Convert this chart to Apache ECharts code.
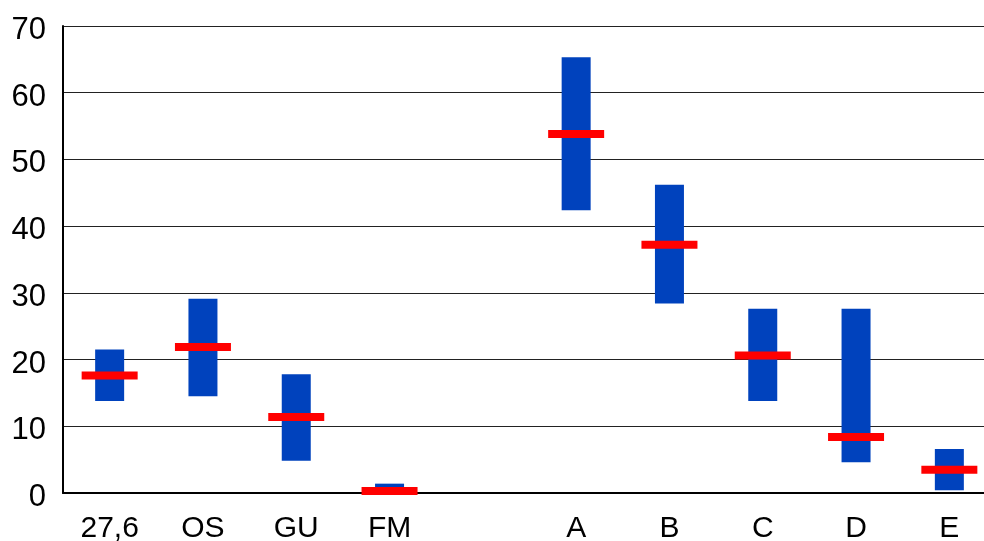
<!DOCTYPE html>
<html>
<head>
<meta charset="utf-8">
<script src="https://cdn.jsdelivr.net/npm/echarts@6/dist/echarts.min.js"></script>
<style>
html,body{margin:0;padding:0;background:#fff;}
#chart{width:984px;height:541px;}
</style>
</head>
<body>
<div id="chart"></div>
<script>
var categories = ['27,6', 'OS', 'GU', 'FM', '', 'A', 'B', 'C', 'D', 'E'];
var lowValues  = [13.8, 14.5, 4.85, 0, null, 42.4, 28.4, 13.8, 4.6, 0.4];
var highValues = [21.5, 29.1, 17.8, 1.4, null, 65.3, 46.2, 27.6, 27.6, 6.6];
var midValues  = [17.6, 21.9, 11.4, 0.3, null, 53.8, 37.2, 20.6, 8.4, 3.5];
var yTicks = [0, 10, 20, 30, 40, 50, 60, 70];

var rangeValues = highValues.map(function (h, i) {
  return (h == null || lowValues[i] == null) ? null : +(h - lowValues[i]).toFixed(3);
});

var chart = echarts.init(document.getElementById('chart'), null, {renderer: 'canvas'});
chart.setOption({
  animation: false,
  backgroundColor: '#ffffff',
  grid: {left: 63, width: 933, top: 26, bottom: 48, containLabel: false, outerBoundsMode: 'none'},
  xAxis: {
    type: 'category',
    data: categories,
    boundaryGap: true,
    axisLine: {show: true, lineStyle: {color: '#000', width: 2}},
    axisTick: {show: false},
    axisLabel: {color: '#000', fontFamily: 'Liberation Sans, Arial, sans-serif', fontSize: 30, margin: 21, interval: 0}
  },
  yAxis: {
    type: 'value',
    min: yTicks[0],
    max: yTicks[yTicks.length - 1],
    interval: 10,
    axisLine: {show: true, lineStyle: {color: '#000', width: 2}},
    axisTick: {show: false},
    splitLine: {show: true, lineStyle: {color: '#222', width: 1}},
    axisLabel: {
      margin: 17,
      formatter: '{v|{value}}',
      rich: {
        v: {color: '#000', fontFamily: 'Liberation Sans, Arial, sans-serif', fontSize: 31, padding: [9, 0, 0, 0]}
      }
    }
  },
  series: [
    {
      type: 'bar',
      stack: 'r',
      data: lowValues,
      barWidth: 29,
      itemStyle: {color: 'transparent'},
      silent: true
    },
    {
      type: 'bar',
      stack: 'r',
      data: rangeValues,
      barWidth: 29,
      itemStyle: {color: '#0042bd'}
    },
    {
      type: 'scatter',
      data: midValues,
      symbol: 'rect',
      symbolSize: [56, 8],
      itemStyle: {color: '#ff0000', opacity: 1},
      z: 5
    }
  ]
});
</script>
</body>
</html>
